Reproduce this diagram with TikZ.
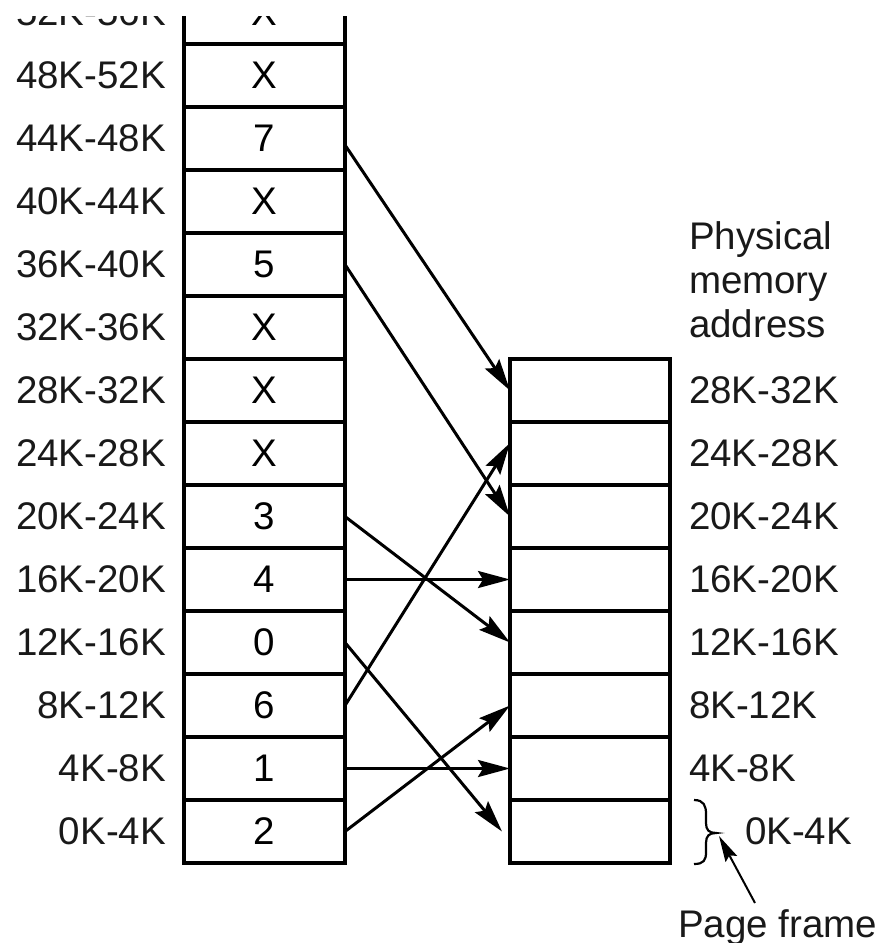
\documentclass[tikz,border=0pt]{standalone}
\usepackage{fontspec}
\setmainfont{Liberation Sans}
\usetikzlibrary{arrows.meta,positioning}
\newcommand\diagfont{\fontsize{38.5}{44}\selectfont}
\begin{document}
\begin{tikzpicture}[x=1pt,y=-1pt,
  cell/.style={draw, line width=3.5pt, minimum width=161pt, minimum height=63pt,
    inner sep=0pt, outer sep=0pt, font=\diagfont},
  rcell/.style={cell, minimum width=160pt},
  lbl/.style={inner sep=0pt, outer sep=0pt, font=\diagfont, text=black!90},
  arr/.style={line width=3pt, -{Stealth[length=32pt,width=17pt,inset=5pt]}},
  arrsmall/.style={line width=2pt, -{Stealth[length=26pt,width=13pt,inset=4pt]}},
  bracestyle/.style={line width=2.2pt}]
\useasboundingbox (0,0) rectangle (882,943);
\begin{scope}
\clip (0,16) rectangle (882,943);
% virtual address space (left column)
\foreach \i/\t in {0/2,1/1,2/6,3/0,4/4,5/3,6/X,7/X,8/X,9/5,10/X,11/7,12/X,13/X}{
  \node[cell] (L\i) at (264.5,{863-(\i+0.5)*63}) {\t};
  \pgfmathtruncatemacro\lo{4*\i}
  \pgfmathtruncatemacro\hi{4*(\i+1)}
  \node[lbl, left=18pt of L\i] (la\i) {\lo K-\hi K};
}
% physical memory (right column)
\foreach \i in {0,...,7}{
  \node[rcell] (R\i) at (590,{863-(\i+0.5)*63}) {};
}
\foreach \i in {1,...,7}{
  \pgfmathtruncatemacro\lo{4*\i}
  \pgfmathtruncatemacro\hi{4*(\i+1)}
  \node[lbl, right=19pt of R\i] (ra\i) {\lo K-\hi K};
}
\node[lbl, right=75pt of R0] (ra0) {0K-4K};
\node[lbl, align=left, anchor=south west] (pma) at ([xshift=19pt,yshift=21pt]R7.north east)
  {Physical\\memory\\address};
% mapping arrows
\draw[arr] ([yshift=-6.5pt]L11.east) -- (R7.west);
\draw[arr] (L9.east) -- (R5.west);
\draw[arr] (L5.east) -- (R3.west);
\draw[arr] (L4.east) -- (R4.west);
\draw[arr] (L3.east) -- ([xshift=-8pt]R0.west);
\draw[arr] (L2.east) -- ([yshift=10.5pt]R6.west);
\draw[arr] (L1.east) -- (R1.west);
\draw[arr] (L0.east) -- (R2.west);
% brace and page frame label
\coordinate (btop) at (694,800);
\coordinate (bbot) at (694,864);
\coordinate (btip) at (716,833);
\draw[bracestyle] (btop) .. controls (704,800) and (706,806) .. (706,814)
  -- (706,823) .. controls (706,830) and (709,833) .. (btip)
  .. controls (709,833) and (706,836) .. (706,843)
  -- (706,852) .. controls (706,860) and (704,864) .. (bbot);
\node[lbl, anchor=base west] (pf) at (678,937) {Page frame};
\coordinate (pfs) at (755,903);
\coordinate (pfe) at (719,836);
\draw[arrsmall] (pfs) -- (pfe);
\end{scope}
\end{tikzpicture}
\end{document}
